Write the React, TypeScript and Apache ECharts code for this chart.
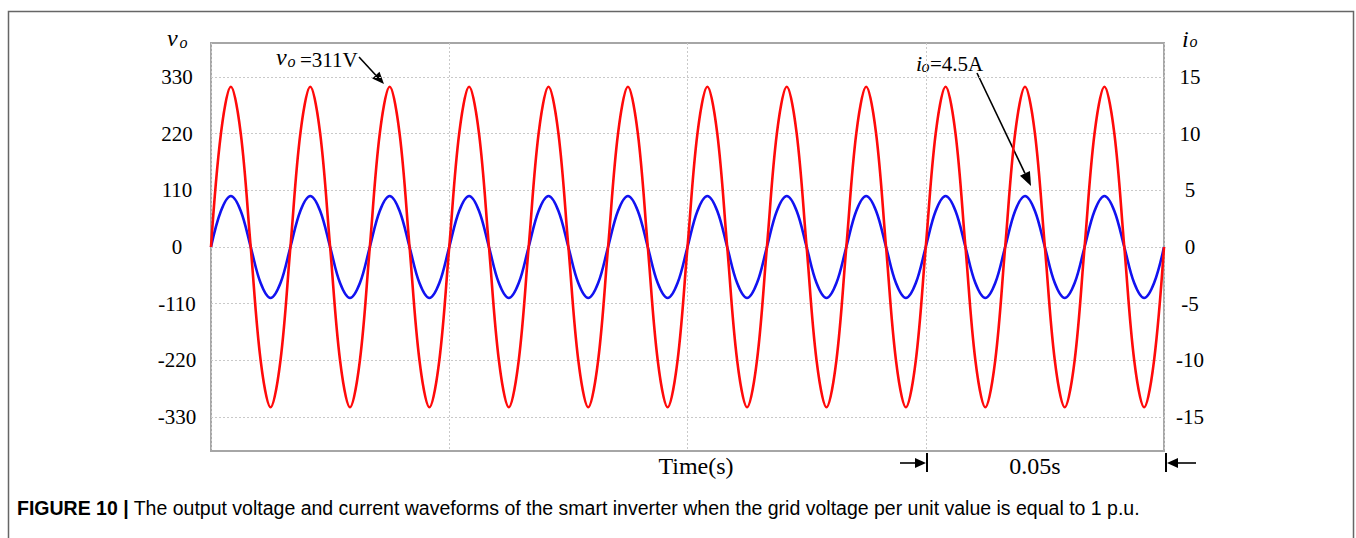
import React, { useEffect, useRef } from "react";
import * as echarts from "echarts";

// time samples in milliseconds (eighth-period steps of a 60 Hz wave)
const timeMs = [
  0, 2.083, 4.167, 6.25, 8.333, 10.417, 12.5, 14.583,
  16.667, 18.75, 20.833, 22.917, 25, 27.083, 29.167, 31.25,
  33.333, 35.417, 37.5, 39.583, 41.667, 43.75, 45.833, 47.917,
  50, 52.083, 54.167, 56.25, 58.333, 60.417, 62.5, 64.583,
  66.667, 68.75, 70.833, 72.917, 75, 77.083, 79.167, 81.25,
  83.333, 85.417, 87.5, 89.583, 91.667, 93.75, 95.833, 97.917,
  100, 102.083, 104.167, 106.25, 108.333, 110.417, 112.5, 114.583,
  116.667, 118.75, 120.833, 122.917, 125, 127.083, 129.167, 131.25,
  133.333, 135.417, 137.5, 139.583, 141.667, 143.75, 145.833, 147.917,
  150, 152.083, 154.167, 156.25, 158.333, 160.417, 162.5, 164.583,
  166.667, 168.75, 170.833, 172.917, 175, 177.083, 179.167, 181.25,
  183.333, 185.417, 187.5, 189.583, 191.667, 193.75, 195.833, 197.917,
  200,
];

// output voltage v_o (V)
const voltage = [
  0, 220, 311, 220, 0, -220, -311, -220,
  0, 220, 311, 220, 0, -220, -311, -220,
  0, 220, 311, 220, 0, -220, -311, -220,
  0, 220, 311, 220, 0, -220, -311, -220,
  0, 220, 311, 220, 0, -220, -311, -220,
  0, 220, 311, 220, 0, -220, -311, -220,
  0, 220, 311, 220, 0, -220, -311, -220,
  0, 220, 311, 220, 0, -220, -311, -220,
  0, 220, 311, 220, 0, -220, -311, -220,
  0, 220, 311, 220, 0, -220, -311, -220,
  0, 220, 311, 220, 0, -220, -311, -220,
  0, 220, 311, 220, 0, -220, -311, -220,
  0,
];

// output current i_o (A)
const current = [
  0, 3.18, 4.5, 3.18, 0, -3.18, -4.5, -3.18,
  0, 3.18, 4.5, 3.18, 0, -3.18, -4.5, -3.18,
  0, 3.18, 4.5, 3.18, 0, -3.18, -4.5, -3.18,
  0, 3.18, 4.5, 3.18, 0, -3.18, -4.5, -3.18,
  0, 3.18, 4.5, 3.18, 0, -3.18, -4.5, -3.18,
  0, 3.18, 4.5, 3.18, 0, -3.18, -4.5, -3.18,
  0, 3.18, 4.5, 3.18, 0, -3.18, -4.5, -3.18,
  0, 3.18, 4.5, 3.18, 0, -3.18, -4.5, -3.18,
  0, 3.18, 4.5, 3.18, 0, -3.18, -4.5, -3.18,
  0, 3.18, 4.5, 3.18, 0, -3.18, -4.5, -3.18,
  0, 3.18, 4.5, 3.18, 0, -3.18, -4.5, -3.18,
  0, 3.18, 4.5, 3.18, 0, -3.18, -4.5, -3.18,
  0,
];

const voltageTicks = [-330, -220, -110, 0, 110, 220, 330];
const currentTicks = [-15, -10, -5, 0, 5, 10, 15];

const SERIF = "'Liberation Serif', 'Times New Roman', serif";
const SANS = "'Liberation Sans', Arial, sans-serif";

function arrowHead(tipX: number, tipY: number, fromX: number, fromY: number, len: number, half: number) {
  const dx = tipX - fromX;
  const dy = tipY - fromY;
  const d = Math.sqrt(dx * dx + dy * dy);
  const ux = dx / d;
  const uy = dy / d;
  const bx = tipX - ux * len;
  const by = tipY - uy * len;
  return {
    base: [bx, by],
    points: [
      [tipX, tipY],
      [bx - uy * half, by + ux * half],
      [bx + uy * half, by - ux * half],
    ],
  };
}

export default function App() {
  const ref = useRef<HTMLDivElement>(null);

  useEffect(() => {
    const chart = echarts.init(ref.current!, null, { renderer: "svg" });

    const a1 = arrowHead(384, 84, 359, 57, 12, 5);
    const a2 = arrowHead(1031, 186, 977, 73, 14, 5.5);
    const mL = arrowHead(926, 463, 900, 463, 11, 5);
    const mR = arrowHead(1167, 463, 1196, 463, 11, 5);

    const grid = "#c9c9c9";

    chart.setOption({
      animation: false,
      backgroundColor: "#ffffff",
      grid: {
        left: 211,
        right: 192,
        top: 43,
        bottom: 87,
        show: true,
        borderColor: "#a6a6a6",
        borderWidth: 2,
        backgroundColor: "transparent",
      },
      xAxis: {
        type: "value",
        min: 0,
        max: 200,
        interval: 50,
        axisLine: { show: false },
        axisTick: { show: false },
        axisLabel: { show: false },
        splitLine: { show: true, lineStyle: { color: grid, width: 1, type: [2, 2] } },
      },
      yAxis: [
        {
          type: "value",
          min: -396,
          max: 396,
          position: "left",
          axisLine: { show: false },
          axisTick: { show: false, customValues: voltageTicks },
          axisLabel: {
            customValues: voltageTicks,
            align: "center",
            margin: 34,
            fontSize: 21,
            fontFamily: SERIF,
            color: "#000",
          },
          splitLine: { show: true, lineStyle: { color: grid, width: 1, type: [2, 2] } },
        },
        {
          type: "value",
          min: -18,
          max: 18,
          position: "right",
          axisLine: { show: false },
          axisTick: { show: false, customValues: currentTicks },
          axisLabel: {
            customValues: currentTicks,
            align: "center",
            margin: 26,
            fontSize: 21,
            fontFamily: SERIF,
            color: "#000",
          },
          splitLine: { show: false },
        },
      ],
      series: [
        {
          name: "io",
          type: "line",
          yAxisIndex: 1,
          data: timeMs.map((t, i) => [t, current[i]]),
          showSymbol: false,
          smooth: 0.35,
          lineStyle: { color: "#1212f0", width: 2.6 },
          z: 2,
        },
        {
          name: "vo",
          type: "line",
          yAxisIndex: 0,
          data: timeMs.map((t, i) => [t, voltage[i]]),
          showSymbol: false,
          smooth: 0.35,
          lineStyle: { color: "#ff0a0a", width: 2.6 },
          z: 3,
        },
      ],
      graphic: [
        {
          type: "polyline",
          shape: { points: [[8.5, 545], [8.5, 11.5], [1353.5, 11.5], [1353.5, 545]] },
          style: { stroke: "#666", lineWidth: 1.5, fill: "none" },
          silent: true,
        },
        // axis titles
        { type: "text", x: 167, y: 37.5, style: { text: "v", fontSize: 24, fontStyle: "italic", fontFamily: SERIF, fill: "#000", verticalAlign: "middle" } },
        { type: "text", x: 179.5, y: 42, style: { text: "o", fontSize: 16, fontStyle: "italic", fontFamily: SERIF, fill: "#000", verticalAlign: "middle" } },
        { type: "text", x: 1182, y: 38.5, style: { text: "i", fontSize: 24, fontStyle: "italic", fontFamily: SERIF, fill: "#000", verticalAlign: "middle" } },
        { type: "text", x: 1189.5, y: 41, style: { text: "o", fontSize: 16, fontStyle: "italic", fontFamily: SERIF, fill: "#000", verticalAlign: "middle" } },
        // annotation vo = 311V
        { type: "text", x: 276, y: 56.5, style: { text: "v", fontSize: 24, fontStyle: "italic", fontFamily: SERIF, fill: "#000", verticalAlign: "middle" } },
        { type: "text", x: 287.5, y: 61.8, style: { text: "o", fontSize: 16, fontStyle: "italic", fontFamily: SERIF, fill: "#000", verticalAlign: "middle" } },
        { type: "text", x: 300, y: 59.5, style: { text: "=311V", fontSize: 21, fontFamily: SERIF, fill: "#000", verticalAlign: "middle" } },
        { type: "line", shape: { x1: 359, y1: 57, x2: a1.base[0], y2: a1.base[1] }, style: { stroke: "#000", lineWidth: 1.6 } },
        { type: "polygon", shape: { points: a1.points }, style: { fill: "#000" } },
        // annotation io = 4.5A
        { type: "text", x: 916, y: 63, style: { text: "i", fontSize: 22, fontStyle: "italic", fontFamily: SERIF, fill: "#000", verticalAlign: "middle" } },
        { type: "text", x: 921.5, y: 66.5, style: { text: "o", fontSize: 16, fontStyle: "italic", fontFamily: SERIF, fill: "#000", verticalAlign: "middle" } },
        { type: "text", x: 930, y: 64, style: { text: "=4.5A", fontSize: 21, fontFamily: SERIF, fill: "#000", verticalAlign: "middle" } },
        { type: "line", shape: { x1: 977, y1: 73, x2: a2.base[0], y2: a2.base[1] }, style: { stroke: "#000", lineWidth: 1.6 } },
        { type: "polygon", shape: { points: a2.points }, style: { fill: "#000" } },
        // time axis text
        { type: "text", x: 696, y: 466, style: { text: "Time(s)", fontSize: 24, fontFamily: SERIF, fill: "#000", align: "center", verticalAlign: "middle" } },
        { type: "text", x: 1035, y: 466, style: { text: "0.05s", fontSize: 24, fontFamily: SERIF, fill: "#000", align: "center", verticalAlign: "middle" } },
        // 0.05 s span markers
        { type: "line", shape: { x1: 900, y1: 463, x2: mL.base[0], y2: mL.base[1] }, style: { stroke: "#000", lineWidth: 1.6 } },
        { type: "polygon", shape: { points: mL.points }, style: { fill: "#000" } },
        { type: "line", shape: { x1: 927, y1: 453, x2: 927, y2: 472 }, style: { stroke: "#000", lineWidth: 2 } },
        { type: "line", shape: { x1: 1196, y1: 463, x2: mR.base[0], y2: mR.base[1] }, style: { stroke: "#000", lineWidth: 1.6 } },
        { type: "polygon", shape: { points: mR.points }, style: { fill: "#000" } },
        { type: "line", shape: { x1: 1166, y1: 453, x2: 1166, y2: 472 }, style: { stroke: "#000", lineWidth: 2 } },
        // caption
        {
          type: "text",
          x: 17,
          y: 508,
          style: {
            text: "{b|FIGURE 10 |} The output voltage and current waveforms of the smart inverter when the grid voltage per unit value is equal to 1 p.u.",
            fontSize: 19.5,
            fontFamily: SANS,
            fill: "#000",
            verticalAlign: "middle",
            rich: {
              b: { fontSize: 19.5, fontWeight: "bold", fontFamily: SANS, fill: "#000" },
            },
          },
        },
      ],
    });

    return () => chart.dispose();
  }, []);

  return (
    <div
      ref={ref}
      style={{ position: "fixed", left: 0, top: 0, width: 1356, height: 538 }}
    />
  );
}
